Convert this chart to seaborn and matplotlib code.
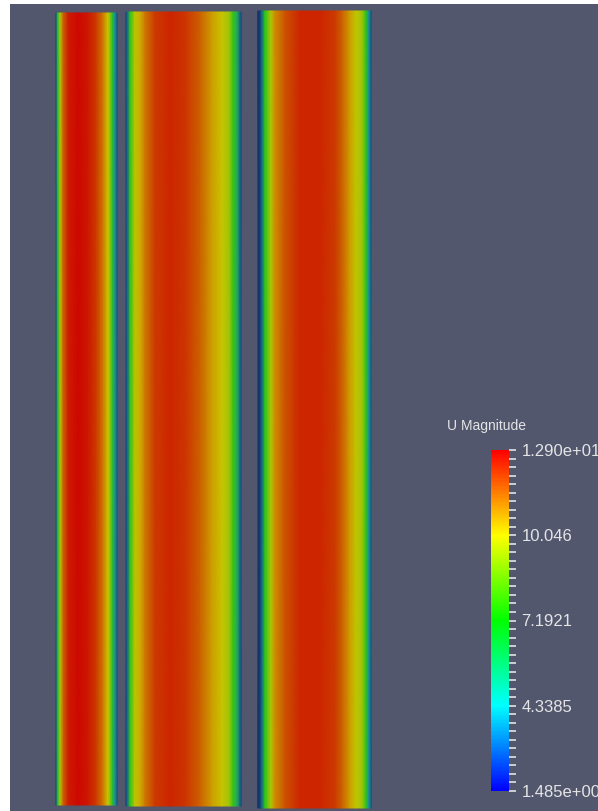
import numpy as np
import matplotlib
matplotlib.use("Agg")
import matplotlib.pyplot as plt
from matplotlib.cm import ScalarMappable
from matplotlib.colors import Normalize
import seaborn as sns

# ---- data: velocity magnitude across each channel (wall-normal coordinate 0..1) ----
chan1_eta = [0.00, 0.03, 0.07, 0.12, 0.20, 0.36, 0.52, 0.66, 0.77, 0.85, 0.90, 0.93, 0.97, 1.00]
chan1_U = [2.63, 6.62, 9.48, 11.53, 12.56, 12.90, 12.67, 12.10, 11.19, 10.05, 8.33, 6.62, 4.34, 2.63]

chan2_eta = [0.000, 0.013, 0.035, 0.078, 0.122, 0.165, 0.252, 0.383, 0.513, 0.643,
             0.748, 0.835, 0.896, 0.930, 0.965, 0.991, 1.000]
chan2_U = [2.40, 3.20, 7.19, 9.70, 10.39, 11.19, 12.10, 12.44, 12.22, 11.53,
           10.62, 9.93, 9.25, 7.42, 5.82, 3.20, 2.40]

chan3_eta = [0.000, 0.018, 0.035, 0.062, 0.088, 0.115, 0.150, 0.239, 0.372, 0.549,
             0.681, 0.743, 0.814, 0.867, 0.920, 0.956, 0.982, 1.000]
chan3_U = [1.485, 2.06, 3.20, 7.19, 8.33, 9.48, 10.85, 11.76, 12.44, 12.44,
           12.10, 11.53, 10.62, 9.82, 9.25, 7.19, 4.34, 2.63]

U_min, U_max = 1.485, 12.90
cbar_labels = ["1.485e+00", "4.3385", "7.1921", "10.046", "1.290e+01"]
cbar_title = "U Magnitude"

# ---- layout (pixel coordinates of the render view) ----
W, H = 598, 811
channel_x = [(56, 117), (126, 241), (258, 371)]
channel_y = [(13, 805), (12, 806), (11, 808)]
bg = "#52576d"
text_col = "#e4e4e6"

sns.set_style("dark", {"axes.facecolor": bg, "figure.facecolor": "white"})
plt.rcParams["font.family"] = ["Liberation Sans", "DejaVu Sans"]

rainbow = ["#0000ff", "#00ffff", "#00ff00", "#ffff00", "#ff0000"]
bar_cmap = sns.blend_palette(rainbow, as_cmap=True)
# lit surfaces appear darker than the legend, the near-wall blue most of all
shaded = ["#10306a", "#1f8f9a", "#2cc41a", "#cdc400", "#cc0800"]
field_cmap = sns.blend_palette(shaded, as_cmap=True)
norm = Normalize(U_min, U_max)

fig = plt.figure(figsize=(W / 100, H / 100), dpi=100)
ax = fig.add_axes([10 / W, 0, (W - 10) / W, (H - 4) / H])
ax.set_facecolor(bg)
ax.set_xlim(10, W)
ax.set_ylim(H, 4)
ax.set_axis_off()
ax.add_patch(plt.Rectangle((10, 4), W, H, color=bg, zorder=0))

for (x0, x1), (y0, y1), eta, U in zip(channel_x, channel_y,
                                      [chan1_eta, chan2_eta, chan3_eta],
                                      [chan1_U, chan2_U, chan3_U]):
    eta = np.asarray(eta)
    xs = x0 + eta * (x1 - x0)
    X = np.vstack([xs, xs])
    Y = np.vstack([np.full(xs.size, y0), np.full(xs.size, y1)])
    C = np.vstack([U, U])
    ax.pcolormesh(X, Y, C, shading="gouraud", cmap=field_cmap, norm=norm, zorder=2)

# ---- scalar bar ----
cb_left, cb_right, cb_top, cb_bot = 491, 509, 450, 791
cax = fig.add_axes([cb_left / W, 1 - cb_bot / H, (cb_right - cb_left) / W, (cb_bot - cb_top) / H])
cb = fig.colorbar(ScalarMappable(norm=norm, cmap=bar_cmap), cax=cax)
cb.outline.set_visible(False)
ticks = np.linspace(U_min, U_max, 41)
cb.set_ticks(ticks)
labels = ["" for _ in ticks]
for i, lab in zip(range(0, 41, 10), cbar_labels):
    labels[i] = lab
cb.set_ticklabels(labels)
cax.tick_params(axis="y", right=True, left=False, length=5, width=1.2,
                color=text_col, labelcolor=text_col, labelsize=12, pad=4)
cax.minorticks_off()

fig.text(447 / W, 1 - 430 / H, cbar_title, color=text_col, fontsize=10,
         ha="left", va="baseline")

fig.savefig("out.png", dpi=100)
